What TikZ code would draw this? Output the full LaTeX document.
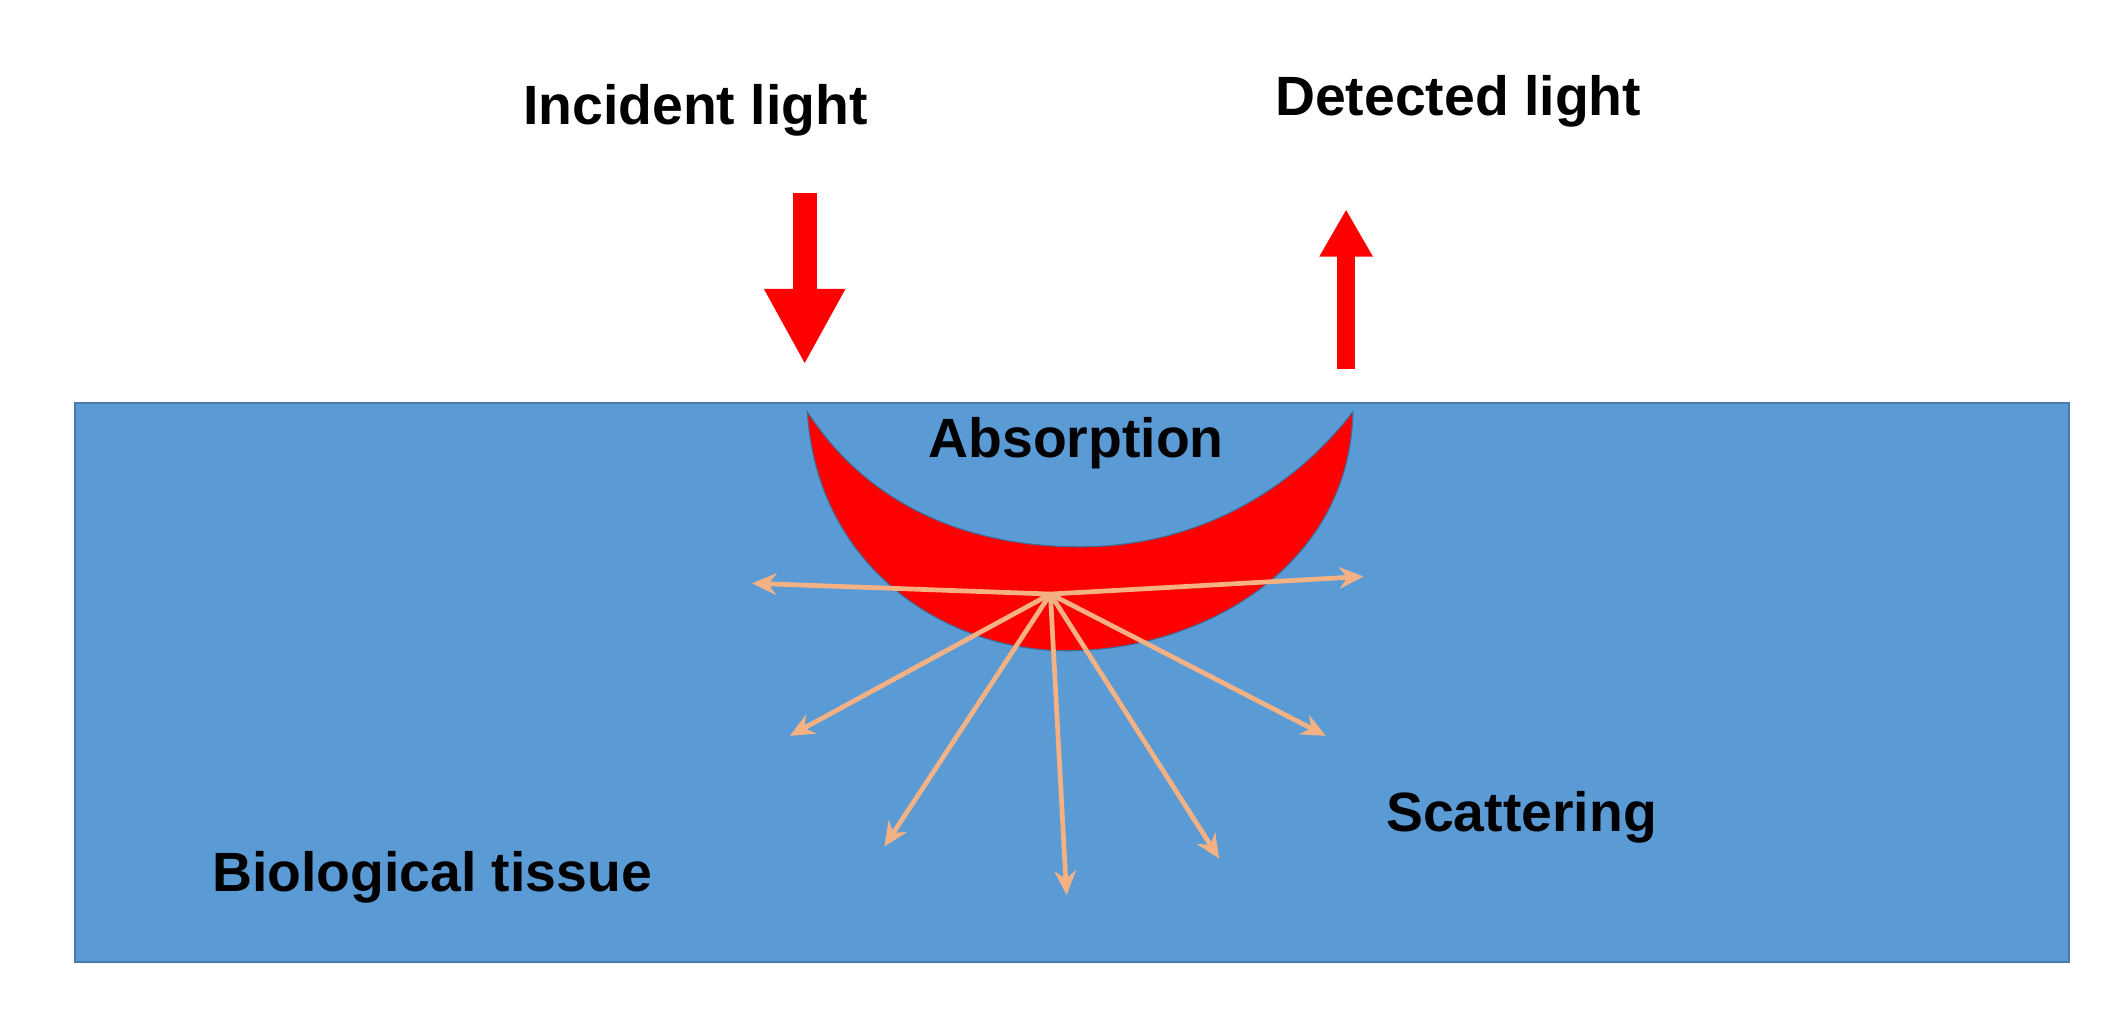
\documentclass[tikz,border=0pt]{standalone}
\usepackage{fontspec}
\setmainfont{Liberation Sans}
\usetikzlibrary{arrows.meta}
\definecolor{tissue}{RGB}{91,155,213}
\definecolor{scat}{RGB}{244,177,131}
\definecolor{lred}{RGB}{255,0,0}
\begin{document}
\begin{tikzpicture}[x=1pt,y=-1pt,
  lbl/.style={font=\fontsize{41}{48}\selectfont\bfseries,text=black,inner sep=0},
  ray/.style={draw=scat,line width=3.5pt,-{Stealth[length=18pt,width=16pt]}}]
\useasboundingbox (0,0) rectangle (1568,757);
\fill[white] (0,0) rectangle (1568,757);
\node[draw=tissue!80!black,fill=tissue,line width=1pt,minimum width=1477pt,minimum height=414pt,anchor=north west,inner sep=0] (tissue) at (55,298) {};
% crescent
\fill[lred,draw=tissue!70!black,line width=0.8pt] (598,305) .. controls (605,420) and (700,482) .. (790,482) .. controls (890,482) and (1000,420) .. (1002,305)
  .. controls (960,360) and (890,405) .. (800,405) .. controls (710,405) and (640,370) .. (598,305) -- cycle;
% arrows
\coordinate (inA) at (596,143); \coordinate (inB) at (596,270);
\draw[lred,line width=18pt,-{Triangle[length=56pt,width=56pt]}] (inA) -- (inB);
\coordinate (outA) at (997,273); \coordinate (outB) at (997,155);
\draw[lred,line width=13pt,-{Triangle[length=35pt,width=37pt]}] (outA) -- (outB);
% scattering
\coordinate (c) at (778,440);
\foreach \p in {(557,432),(1010,427),(585,545),(655,627),(790,663),(903,636),(982,545)}
  \draw[ray] (c) -- \p;
\node[lbl] (inc) at (515,82) {Incident light};
\node[lbl] (det) at (1080,75) {Detected light};
\node[lbl] (abs) at (797,328) {Absorption};
\node[lbl] (bio) at (320,650) {Biological tissue};
\node[lbl] (sca) at (1127,605) {Scattering};
\end{tikzpicture}
\end{document}
